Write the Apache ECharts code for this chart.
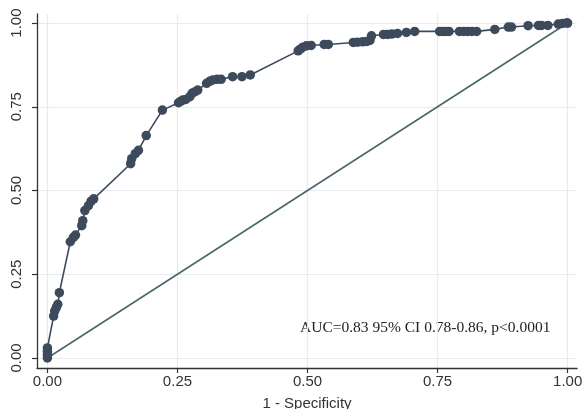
<!DOCTYPE html>
<html>
<head>
<meta charset="utf-8">
<script src="https://cdn.jsdelivr.net/npm/echarts@6/dist/echarts.min.js"></script>
<style>
  html, body { margin: 0; padding: 0; background: #fff; }
  #main { width: 583px; height: 409px; }
</style>
</head>
<body>
<div id="main"></div>
<script>
// ROC curve: 1 - specificity vs sensitivity
const fpr = [0, 0, 0, 0, 0.012, 0.014, 0.017, 0.02, 0.023,
  0.044, 0.05, 0.054, 0.066, 0.068, 0.072, 0.079, 0.084, 0.089,
  0.16, 0.162, 0.169, 0.175, 0.19, 0.221,
  0.252, 0.256, 0.26, 0.266, 0.274, 0.278, 0.284, 0.289,
  0.306, 0.312, 0.318, 0.326, 0.334, 0.356, 0.374, 0.39,
  0.482, 0.486, 0.491, 0.498, 0.507, 0.532, 0.54,
  0.588, 0.596, 0.606, 0.614, 0.62, 0.623,
  0.646, 0.654, 0.662, 0.673, 0.69, 0.706,
  0.754, 0.76, 0.766, 0.772, 0.792, 0.8, 0.808, 0.816, 0.825,
  0.86, 0.886, 0.892, 0.924, 0.944, 0.95, 0.962, 0.982, 0.99, 0.998, 1]
const tpr = [0, 0.01, 0.02, 0.03, 0.125, 0.14, 0.15, 0.16, 0.195,
  0.347, 0.36, 0.367, 0.395, 0.41, 0.44, 0.455, 0.468, 0.475,
  0.58, 0.595, 0.61, 0.62, 0.664, 0.74,
  0.762, 0.766, 0.77, 0.772, 0.78, 0.79, 0.795, 0.8,
  0.82, 0.826, 0.83, 0.832, 0.832, 0.84, 0.84, 0.845,
  0.917, 0.922, 0.928, 0.932, 0.933, 0.936, 0.936,
  0.942, 0.943, 0.944, 0.945, 0.948, 0.962,
  0.966, 0.966, 0.967, 0.969, 0.972, 0.975,
  0.975, 0.975, 0.975, 0.975, 0.975, 0.975, 0.975, 0.975, 0.975,
  0.981, 0.988, 0.988, 0.992, 0.993, 0.993, 0.993, 0.997, 0.999, 1, 1]
const refLine = [[0, 0], [1, 1]]
const tickValues = [0, 0.25, 0.5, 0.75, 1]
const aucText = 'AUC=0.83 95% CI 0.78-0.86, p<0.0001'

var rocData = []
for (var i = 0; i < fpr.length; i++) {
  rocData.push([fpr[i], tpr[i]])
}

const chart = echarts.init(document.getElementById('main'), null, { renderer: 'canvas' })

var axisCommon = {
  type: 'value',
  axisLine: { show: true, onZero: false, lineStyle: { color: '#333', width: 1.3 } },
  axisTick: { show: true, inside: false, length: 5, customValues: tickValues, lineStyle: { color: '#333', width: 1.2 } },
  splitLine: { show: true, lineStyle: { color: '#e6ebf1', width: 1.2 } },
  axisLabel: {
    customValues: tickValues,
    color: '#333',
    fontSize: 15,
    fontFamily: '"Liberation Sans", Arial, sans-serif',
    formatter: function (v) { return v.toFixed(2) }
  }
}

var option = {
  backgroundColor: '#ffffff',
  animation: false,
  // keep the plot box fixed, the axis title may touch the bottom edge
  grid: { left: 37, right: 6, top: 14, bottom: 41, containLabel: false, outerBoundsMode: 'none' },
  xAxis: echarts.util.merge({
    min: -0.02,
    max: 1.018,
    name: '1 - Specificity',
    nameLocation: 'middle',
    nameGap: 28,
    nameMoveOverlap: false,
    nameTextStyle: { color: '#333', fontSize: 15, fontFamily: '"Liberation Sans", Arial, sans-serif' },
    axisLabel: { margin: 6 }
  }, axisCommon, false),
  yAxis: echarts.util.merge({
    min: -0.03,
    max: 1.027,
    axisLabel: { rotate: 90, margin: 13 }
  }, axisCommon, false),
  graphic: [{
    type: 'text',
    left: 300,
    top: 320,
    style: {
      text: aucText,
      fill: '#222',
      fontSize: 15.5,
      fontFamily: '"Liberation Serif", "Times New Roman", serif'
    }
  }],
  series: [
    {
      type: 'line',
      data: refLine,
      symbol: 'none',
      lineStyle: { color: '#4b6767', width: 1.6 },
      z: 2
    },
    {
      type: 'line',
      data: rocData,
      symbol: 'circle',
      symbolSize: 9.5,
      showAllSymbol: true,
      itemStyle: { color: '#3d4a5b' },
      lineStyle: { color: '#3d4a5b', width: 1.6 },
      z: 3
    }
  ]
}

chart.setOption(option)
</script>
</body>
</html>
